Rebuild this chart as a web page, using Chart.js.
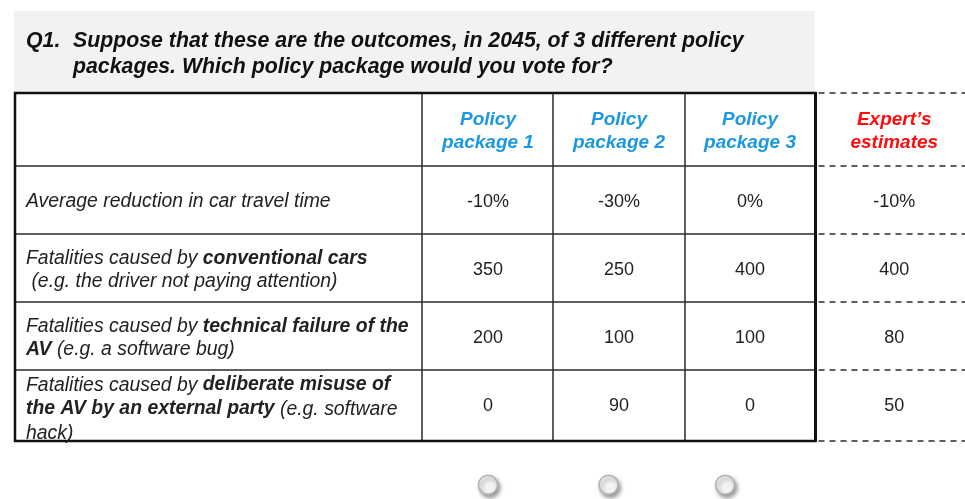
<!DOCTYPE html>
<html>
<head>
<meta charset="utf-8">
<script src="https://cdn.jsdelivr.net/npm/chart.js@4.4.0/dist/chart.umd.min.js"></script>
<style>
  html, body { margin: 0; padding: 0; background: #ffffff; }
  #wrap { position: relative; width: 965px; height: 499px; }
</style>
</head>
<body>
<div id="wrap"><canvas id="c" width="965" height="499"></canvas></div>
<script>
// ---------------- DATA ----------------
const questionLabel = "Q1.";
const questionLines = [
  "Suppose that these are the outcomes, in 2045, of 3 different policy",
  "packages. Which policy package would you vote for?"
];
const packageHeaders = [["Policy", "package 1"], ["Policy", "package 2"], ["Policy", "package 3"]];
const expertHeader = ["Expert\u2019s", "estimates"];
// Row labels: lines made of [text, bold] segments
const rowLabels = [
  [[["Average reduction in car travel time", false]]],
  [[["Fatalities caused by ", false], ["conventional cars", true]],
   [[" (e.g. the driver not paying attention)", false]]],
  [[["Fatalities caused by ", false], ["technical failure of the", true]],
   [["AV", true], [" (e.g. a software bug)", false]]],
  [[["Fatalities caused by ", false], ["deliberate misuse of", true]],
   [["the AV by an external party", true], [" (e.g. software", false]],
   [["hack)", false]]]
];
const rowUnits = ["%", "", "", ""];
const package1 = [-10, 350, 200, 0];
const package2 = [-30, 250, 100, 90];
const package3 = [0, 400, 100, 0];
const expertEstimates = [-10, 400, 80, 50];
const radioChoices = ["Policy package 1", "Policy package 2", "Policy package 3"];

// ---------------- LAYOUT / STYLE ----------------
const FONT = '"Liberation Sans", Arial, sans-serif';
const BLUE = '#1b98e0';
const RED = '#ff0d0d';
const TEXT = '#222222';
const LINE = '#2b2b2b';
const xEdges = [-3.618, -0.5, 0.5, 1.5, 2.5, 3.641];   // label col, P1, P2, P3, expert
const yEdges = [-0.57, 0.5, 1.5, 2.5, 3.5, 4.54];       // header, rows 1-4
const radioShift = [0, -0.08, -0.19];
const radioRow = 5.19;

function fmt(v, unit) { return unit === '%' ? (v + '%') : String(v); }

function cellPoints(values, col) {
  return values.map((v, i) => ({ x: col, y: i + 1, v: v }));
}

const tablePlugin = {
  id: 'policyTable',
  beforeDraw(chart) {
    const ctx = chart.ctx, xs = chart.scales.x, ca = chart.chartArea;
    ctx.save();
    ctx.fillStyle = '#ffffff';
    ctx.fillRect(0, 0, chart.width, chart.height);
    // grey question box
    const boxL = ca.left, boxR = xs.getPixelForValue(xEdges[4]) - 1;
    ctx.fillStyle = '#f2f2f2';
    ctx.fillRect(boxL, 11, boxR - boxL, ca.top - 12);
    ctx.fillStyle = '#111111';
    ctx.font = 'italic bold 21.3px ' + FONT;
    ctx.textBaseline = 'middle';
    ctx.textAlign = 'left';
    ctx.fillText(questionLabel, boxL + 12, 41);
    questionLines.forEach((t, i) => ctx.fillText(t, boxL + 59, 41 + i * 26));
    ctx.restore();
  },
  afterDatasetsDraw(chart) {
    const ctx = chart.ctx, xs = chart.scales.x, ys = chart.scales.y;
    const X = v => xs.getPixelForValue(v), Y = v => ys.getPixelForValue(v);
    const left = X(xEdges[0]), tRight = X(xEdges[4]), right = X(xEdges[5]);
    const top = Y(yEdges[0]), bottom = Y(yEdges[yEdges.length - 1]);
    ctx.save();
    // interior solid lines
    ctx.strokeStyle = LINE;
    ctx.lineWidth = 1.5;
    ctx.beginPath();
    for (let i = 1; i < 4; i++) { const x = Math.round(X(xEdges[i])); ctx.moveTo(x, top); ctx.lineTo(x, bottom); }
    for (let j = 1; j < yEdges.length - 1; j++) { const y = Math.round(Y(yEdges[j])); ctx.moveTo(left, y); ctx.lineTo(tRight, y); }
    ctx.stroke();
    // outer border
    ctx.lineWidth = 2.5;
    ctx.strokeStyle = '#111111';
    ctx.strokeRect(left + 1, Math.round(top), tRight - left - 1, Math.round(bottom) - Math.round(top));
    ctx.lineWidth = 3;
    ctx.beginPath(); ctx.moveTo(tRight, top - 1); ctx.lineTo(tRight, bottom + 1); ctx.stroke();
    // dashed expert lines
    ctx.lineWidth = 1.5;
    ctx.strokeStyle = LINE;
    ctx.setLineDash([6, 5]);
    ctx.beginPath();
    for (let j = 0; j < yEdges.length; j++) { const y = Math.round(Y(yEdges[j])); ctx.moveTo(tRight + 3, y); ctx.lineTo(right, y); }
    ctx.stroke();
    ctx.setLineDash([]);

    // header texts
    const hy = (Y(yEdges[0]) + Y(yEdges[1])) / 2 + 2;
    ctx.font = 'italic bold 19px ' + FONT;
    ctx.textAlign = 'center';
    ctx.textBaseline = 'middle';
    packageHeaders.forEach((lines, c) => {
      const cx = (X(xEdges[c + 1]) + X(xEdges[c + 2])) / 2;
      ctx.fillStyle = BLUE;
      lines.forEach((t, k) => ctx.fillText(t, cx, hy + (k - (lines.length - 1) / 2) * 23));
    });
    const ex = (X(xEdges[4]) + X(xEdges[5])) / 2 + 4;
    ctx.fillStyle = RED;
    expertHeader.forEach((t, k) => ctx.fillText(t, ex, hy + (k - (expertHeader.length - 1) / 2) * 23));

    // row labels
    ctx.textAlign = 'left';
    ctx.fillStyle = '#222222';
    rowLabels.forEach((lines, r) => {
      const cy = (Y(yEdges[r + 1]) + Y(yEdges[r + 2])) / 2 + (lines.length === 3 ? 4 : 2);
      const lh = lines.length === 3 ? 24 : 23;
      lines.forEach((segs, k) => {
        let x = left + 12;
        const y = cy + (k - (lines.length - 1) / 2) * lh;
        segs.forEach(([t, b]) => {
          ctx.font = 'italic ' + (b ? 'bold ' : '') + '19.4px ' + FONT;
          ctx.fillText(t, x, y);
          x += ctx.measureText(t).width;
        });
      });
    });

    // values from dataset elements
    ctx.textAlign = 'center';
    ctx.font = '18px ' + FONT;
    ctx.fillStyle = TEXT;
    chart.data.datasets.forEach((ds, di) => {
      if (!ds.isCells) return;
      const meta = chart.getDatasetMeta(di);
      meta.data.forEach((el, i) => {
        const p = ds.data[i];
        ctx.fillText(fmt(p.v, rowUnits[i]), el.x + (ds.isExpert ? 4 : 0), el.y + 2);
      });
    });
    ctx.restore();
  },
  beforeDatasetDraw(chart, args) {
    const ds = chart.data.datasets[args.index];
    if (ds.isRadio) {
      const ctx = chart.ctx;
      ctx.save();
      ctx.shadowColor = 'rgba(0,0,0,0.4)';
      ctx.shadowBlur = 4;
      ctx.shadowOffsetX = 2;
      ctx.shadowOffsetY = 3;
    }
  },
  afterDatasetDraw(chart, args) {
    const ds = chart.data.datasets[args.index];
    if (ds.isRadio) chart.ctx.restore();
  }
};

const cellStyle = { type: 'scatter', pointRadius: 0, pointHoverRadius: 0, isCells: true };

new Chart(document.getElementById('c'), {
  type: 'scatter',
  data: {
    datasets: [
      Object.assign({ label: 'Policy package 1', data: cellPoints(package1, 0) }, cellStyle),
      Object.assign({ label: 'Policy package 2', data: cellPoints(package2, 1) }, cellStyle),
      Object.assign({ label: 'Policy package 3', data: cellPoints(package3, 2) }, cellStyle),
      Object.assign({ label: "Expert's estimates", data: cellPoints(expertEstimates, (xEdges[4] + xEdges[5]) / 2), isExpert: true }, cellStyle),
      {
        label: 'Vote',
        isRadio: true,
        data: radioChoices.map((c, i) => ({ x: i + radioShift[i], y: radioRow })),
        pointRadius: 9.5,
        pointHoverRadius: 9.5,
        pointBackgroundColor: '#f3f3f3',
        pointBorderColor: '#b3b3b3',
        pointBorderWidth: 1.5
      }
    ]
  },
  options: {
    responsive: false,
    animation: false,
    events: [],
    layout: { autoPadding: false, padding: { left: 14, right: 0, top: 93, bottom: 0 } },
    plugins: { legend: { display: false }, tooltip: { enabled: false }, title: { display: false } },
    scales: {
      x: { type: 'linear', display: false, min: xEdges[0], max: xEdges[5] },
      y: { type: 'linear', display: false, reverse: true, min: yEdges[0], max: 5.40 }
    }
  },
  plugins: [tablePlugin]
});
</script>
</body>
</html>
